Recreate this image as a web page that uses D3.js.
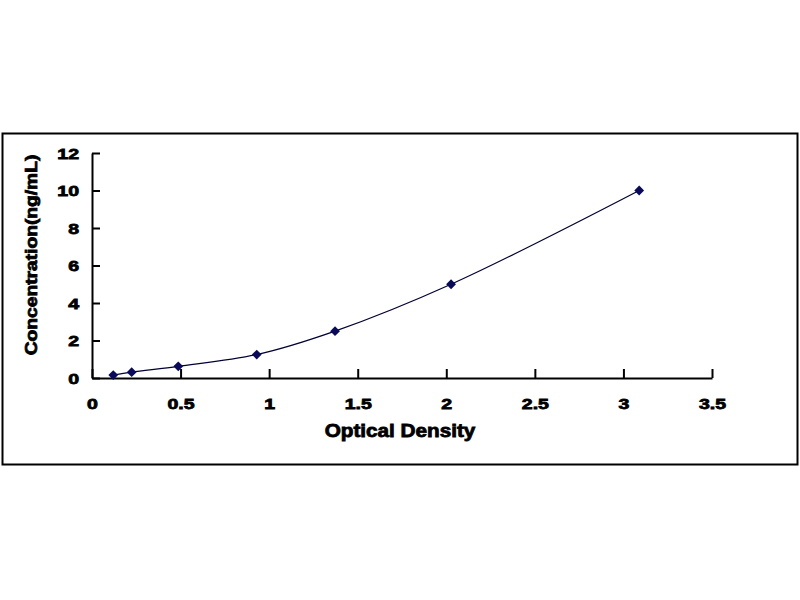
<!DOCTYPE html>
<html>
<head>
<meta charset="utf-8">
<script src="https://cdn.jsdelivr.net/npm/d3@7"></script>
<style>
  body { margin: 0; background: #fff; }
  text { font-family: "Liberation Sans", Arial, sans-serif; font-weight: bold; fill: #000; stroke: #000; stroke-width: 0.8; }
</style>
</head>
<body>
<script>
var WIDTH = 800, HEIGHT = 600;
var MARGIN = {left: 92, top: 153, right: 88, bottom: 222};
var INNER_WIDTH = WIDTH - MARGIN.left - MARGIN.right;
var INNER_HEIGHT = HEIGHT - MARGIN.top - MARGIN.bottom;

// standard curve points
var opticalDensity = [0.12, 0.224, 0.487, 0.93, 1.372, 2.027, 3.089];
var concentration = [0.156, 0.312, 0.625, 1.25, 2.5, 5, 10];
var xTicks = [0, 0.5, 1, 1.5, 2, 2.5, 3, 3.5];
var yTicks = [0, 2, 4, 6, 8, 10, 12];

// widen glyphs a bit, the original picture is stretched sideways
var stretch = function(sel, k) {
  sel.each(function() {
    var w = this.getComputedTextLength();
    d3.select(this).attr('textLength', w * k).attr('lengthAdjust', 'spacingAndGlyphs');
  });
};

var _svg = d3.select('body').append('svg')
    .attr('width', WIDTH)
    .attr('height', HEIGHT);

// outer frame
_svg.append('rect')
    .attr('x', 2.5).attr('y', 133.5)
    .attr('width', 795).attr('height', 331)
    .attr('fill', 'none')
    .attr('stroke', '#000')
    .attr('stroke-width', 2);

var _xScale = d3.scaleLinear().domain([0, 3.5]).range([0, INNER_WIDTH]);
var _yScale = d3.scaleLinear().domain([0, 12]).range([INNER_HEIGHT, 0]);

var g = _svg.append('g')
    .attr('transform', 'translate(' + MARGIN.left + ',' + MARGIN.top + ')');

var xAxis = g.append('g')
    .attr('transform', 'translate(0,' + INNER_HEIGHT + ')')
    .call(d3.axisBottom(_xScale).tickValues(xTicks).tickSizeInner(-9).tickSizeOuter(0)
        .tickPadding(21).tickFormat(d3.format('')));

var yAxis = g.append('g')
    .call(d3.axisLeft(_yScale).tickValues(yTicks).tickSizeInner(-8).tickSizeOuter(0)
        .tickPadding(20).tickFormat(d3.format('')));

[xAxis, yAxis].forEach(function(ax) {
  ax.select('.domain').attr('stroke', '#000').attr('stroke-width', 2);
  ax.selectAll('.tick line').attr('stroke', '#000').attr('stroke-width', 2);
  ax.selectAll('.tick text').attr('font-size', 15).attr('font-family', null);
  stretch(ax.selectAll('.tick text'), 1.3);
});
yAxis.selectAll('.tick text').attr('x', -13).attr('dy', '0.36em');
xAxis.selectAll('.tick text').attr('y', 20);

var points = opticalDensity.map(function(d, i) { return [d, concentration[i]]; });

var line = d3.line()
    .x(function(d) { return _xScale(d[0]); })
    .y(function(d) { return _yScale(d[1]); })
    .curve(d3.curveCatmullRom.alpha(0.5));

g.append('path')
    .datum(points)
    .attr('d', line)
    .attr('fill', 'none')
    .attr('stroke', '#000033')
    .attr('stroke-width', 1.2);

g.selectAll('.pt').data(points)
    .enter()
    .append('path')
    .attr('class', 'pt')
    .attr('d', d3.symbol().type(d3.symbolSquare).size(48))
    .attr('transform', function(d) {
      return 'translate(' + _xScale(d[0]) + ',' + _yScale(d[1]) + ') rotate(45)';
    })
    .attr('fill', '#0a0a5a');

var xTitle = _svg.append('text')
    .attr('x', 400)
    .attr('y', 437)
    .attr('text-anchor', 'middle')
    .attr('font-size', 18)
    .text('Optical Density');
stretch(xTitle, 1.15);

var yTitle = _svg.append('text')
    .attr('transform', 'translate(37,255) rotate(-90)')
    .attr('text-anchor', 'middle')
    .attr('font-size', 17)
    .text('Concentration(ng/mL)');
stretch(yTitle, 1.13);
</script>
</body>
</html>
